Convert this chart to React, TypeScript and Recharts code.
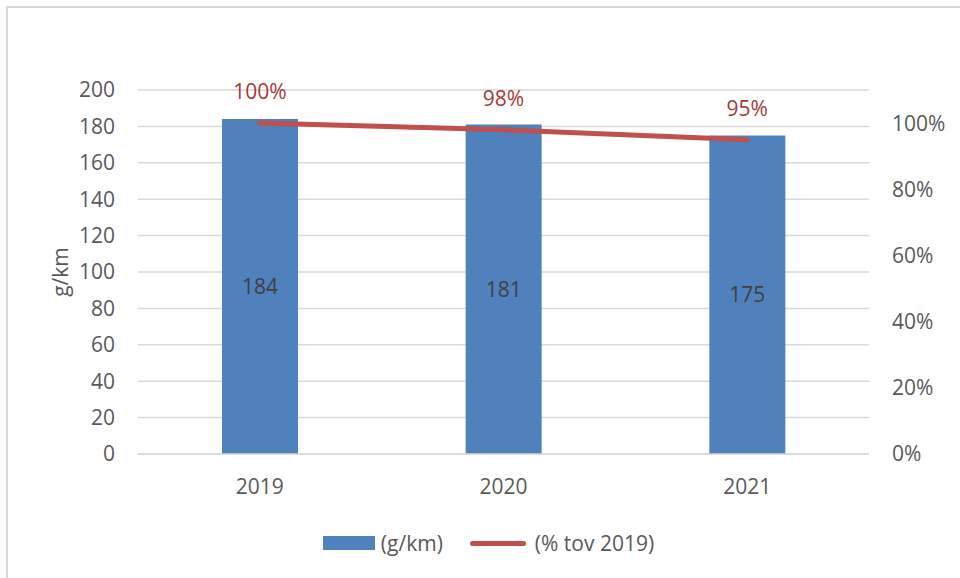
import React from 'react';
import {
  ComposedChart,
  Bar,
  Line,
  XAxis,
  YAxis,
  CartesianGrid,
  Legend,
  LabelList,
} from 'recharts';

// values
const years = ['2019', '2020', '2021'];
const emissions = [184, 181, 175]; // g/km
const shareOf2019 = [1.0, 0.98, 0.95]; // % tov 2019
const leftTicks = [0, 20, 40, 60, 80, 100, 120, 140, 160, 180, 200];
const rightTicks = [0, 0.2, 0.4, 0.6, 0.8, 1.0];

const data = years.map((year, i) => ({
  year,
  gkm: emissions[i],
  pct: shareOf2019[i],
}));

const FONT = '"Open Sans", "DejaVu Sans", sans-serif';
const TICK = { fontSize: 21, fill: '#595959', fontFamily: FONT };
const BLUE = '#4f81bd';
const RED = '#c0504d';

const AxisTitle = (props: any) => {
  const { viewBox } = props;
  const cx = viewBox.x + 60;
  const cy = viewBox.y + viewBox.height / 2;
  return (
    <text
      x={cx}
      y={cy}
      transform={`rotate(-90, ${cx}, ${cy})`}
      textAnchor="middle"
      dominantBaseline="central"
      fontSize={21}
      fill="#595959"
      fontFamily={FONT}
    >
      g/km
    </text>
  );
};

const PctLabel = (props: any) => {
  const { x, y, value } = props;
  return (
    <text
      x={x}
      y={y - 32}
      textAnchor="middle"
      dominantBaseline="central"
      fontSize={21}
      fill="#a33b39"
      fontFamily={FONT}
    >
      {Math.round(value * 100)}%
    </text>
  );
};

const LegendBox = () => (
  <div
    style={{
      display: 'flex',
      justifyContent: 'center',
      alignItems: 'center',
      paddingLeft: 17,
      fontFamily: FONT,
      fontSize: 21,
      color: '#595959',
    }}
  >
    <span style={{ width: 52, height: 14, background: BLUE, marginRight: 6 }} />
    <span>(g/km)</span>
    <span
      style={{
        width: 56,
        height: 5,
        borderRadius: 3,
        background: RED,
        marginLeft: 27,
        marginRight: 9,
      }}
    />
    <span>(% tov 2019)</span>
  </div>
);

export default function App() {
  return (
    <div style={{ position: 'fixed', left: 0, top: 0, width: 960, height: 578, background: '#fff' }}>
      <div
        style={{
          position: 'absolute',
          left: 6,
          top: 6,
          width: 960,
          height: 590,
          border: '2px solid #d9d9d9',
        }}
      />
      <ComposedChart
        width={960}
        height={578}
        data={data}
        margin={{ top: 90, right: 0, bottom: 84, left: 0 }}
        style={{ position: 'absolute', left: 0, top: 0 }}
      >
        <CartesianGrid vertical={false} stroke="#d9d9d9" strokeWidth={1.5} yAxisId="left" />
        <XAxis
          dataKey="year"
          height={40}
          tick={TICK}
          tickLine={false}
          tickSize={0}
          tickMargin={25}
          axisLine={{ stroke: '#d9d9d9', strokeWidth: 1.5 }}
        />
        <YAxis
          yAxisId="left"
          width={138}
          domain={[0, 200]}
          ticks={leftTicks}
          tick={TICK}
          tickLine={false}
          tickSize={0}
          tickMargin={23}
          axisLine={false}
          label={<AxisTitle />}
        />
        <YAxis
          yAxisId="right"
          orientation="right"
          width={91}
          domain={[0, 1.1]}
          ticks={rightTicks}
          tickFormatter={(v: number) => `${Math.round(v * 100)}%`}
          tick={TICK}
          tickLine={false}
          tickSize={0}
          tickMargin={23}
          axisLine={false}
        />
        <Bar yAxisId="left" dataKey="gkm" fill={BLUE} barSize={76} isAnimationActive={false}>
          <LabelList
            dataKey="gkm"
            position="center"
            fill="#404040"
            fontSize={21}
            fontFamily={FONT}
          />
        </Bar>
        <Line
          yAxisId="right"
          dataKey="pct"
          stroke={RED}
          strokeWidth={5}
          strokeLinecap="round"
          dot={false}
          activeDot={false}
          isAnimationActive={false}
        >
          <LabelList dataKey="pct" content={<PctLabel />} />
        </Line>
        <Legend
          layout="horizontal"
          verticalAlign="middle"
          align="center"
          content={<LegendBox />}
          wrapperStyle={{ top: 529, left: 0, width: 960 }}
        />
      </ComposedChart>
    </div>
  );
}
